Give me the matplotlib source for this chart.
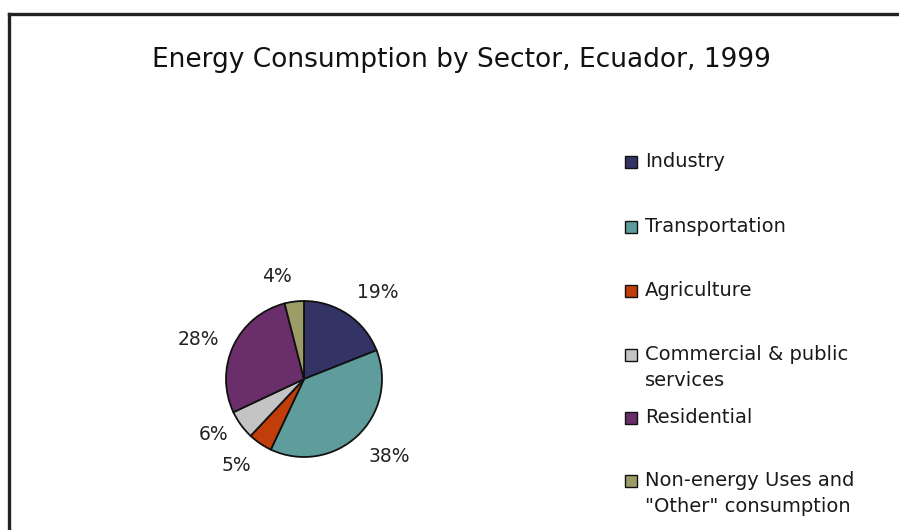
import matplotlib
matplotlib.use("Agg")
import numpy as np
import matplotlib.pyplot as plt
import matplotlib.patches as patches
from matplotlib.lines import Line2D

sectors = ["Industry", "Transportation", "Agriculture",
           "Commercial & public\nservices", "Residential",
           "Non-energy Uses and\n\"Other\" consumption"]
shares = [19, 38, 5, 6, 28, 4]
colors = ["#333366", "#5f9c9c", "#c13d0a", "#c4c4c4", "#6a2f6a", "#9c9c66"]

W, H = 899, 530
fig = plt.figure(figsize=(W / 100, H / 100), dpi=100)
fig.patch.set_facecolor("white")

# outer frame (cut off at right and bottom like the scan)
fig.add_artist(Line2D([9 / W, 9 / W], [0, 1 - 14 / H], transform=fig.transFigure,
                      color="#222222", lw=2.4))
fig.add_artist(Line2D([9 / W, 1], [1 - 14 / H, 1 - 14 / H], transform=fig.transFigure,
                      color="#222222", lw=2.4))

fig.text(461 / W, 1 - 60 / H, "Energy Consumption by Sector, Ecuador, 1999",
         ha="center", va="center", fontsize=19, color="#111111")

# pie
cx, cy, r = 304, 379, 78
ax = fig.add_axes([(cx - r) / W, (H - cy - r) / H, 2 * r / W, 2 * r / H])
wedges, _ = ax.pie(shares, colors=colors, startangle=90, counterclock=False,
                   wedgeprops=dict(edgecolor="#111111", linewidth=1.3))

# percentage labels just outside the rim, aligned away from the pie (Excel style)
for w, val in zip(wedges, shares):
    ang = np.deg2rad((w.theta1 + w.theta2) / 2)
    c, s = np.cos(ang), np.sin(ang)
    ha = "left" if c > 0 else "right"
    va = "center" if abs(s) < 0.6 else ("bottom" if s > 0 else "top")
    ax.text(1.2 * c, 1.2 * s, f"{val}%", ha=ha, va=va, fontsize=13.5, color="#222222")

ax.set_xlim(-1, 1)
ax.set_ylim(-1, 1)
ax.set_aspect("equal")
ax.axis("off")

# legend, drawn by hand so that two-line labels hang below their box
ys = [162, 227, 291, 355, 418, 481]
for label, col, y in zip(sectors, colors, ys):
    fig.add_artist(patches.Rectangle((625 / W, 1 - (y + 6) / H), 12 / W, 12 / H,
                                     transform=fig.transFigure, fc=col, ec="#111111", lw=1))
    fig.text(645 / W, 1 - (y - 10) / H, label, ha="left", va="top", fontsize=14,
             color="#1a1a1a", linespacing=1.5)

fig.savefig("out.png", dpi=100)
